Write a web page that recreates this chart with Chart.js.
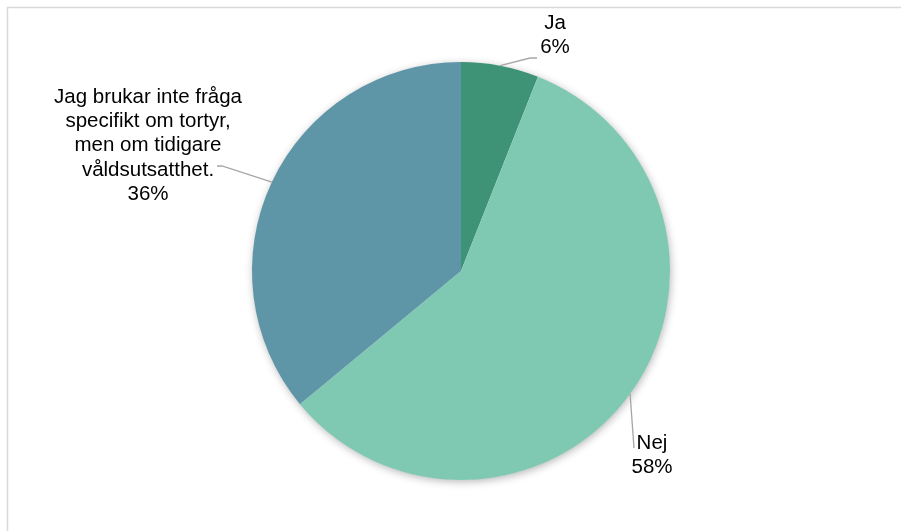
<!DOCTYPE html>
<html>
<head>
<meta charset="utf-8">
<script src="https://cdn.jsdelivr.net/npm/chart.js@4"></script>
<style>
  html, body { margin: 0; padding: 0; background: #ffffff; }
  #wrap { position: relative; width: 901px; height: 531px; }
</style>
</head>
<body>
<div id="wrap"><canvas id="c" width="901" height="531"></canvas></div>
<script>
// Svar på frågan om tortyr
const categories = ['Ja', 'Nej', 'Jag brukar inte fråga specifikt om tortyr, men om tidigare våldsutsatthet.'];
const values = [6, 58, 36];
const sliceColors = ['#3e9377', '#7fc9b2', '#5e96a8'];

// Text rows of each data label (name lines followed by the percentage)
const labelLines = [
  ['Ja', '6%'],
  ['Nej', '58%'],
  ['Jag brukar inte fråga', 'specifikt om tortyr,', 'men om tidigare', 'våldsutsatthet.', '36%']
];

// Label placement: text centre x, first-row centre y, and the leader elbow
const labelLayout = [
  { x: 555, y: 23, elbow: [[530, 58], [537, 58]] },
  { x: 652, y: 443, elbow: [[634, 448]] },
  { x: 148, y: 97, elbow: [[222, 166], [217, 166]] }
];

const FONT = '20.5px "Liberation Sans", Arial, sans-serif';
const LINE_H = 24.3;

const framePlugin = {
  id: 'frame',
  beforeDraw(chart) {
    const ctx = chart.ctx;
    ctx.save();
    ctx.fillStyle = '#ffffff';
    ctx.fillRect(0, 0, chart.width, chart.height);
    ctx.strokeStyle = '#d9d9d9';
    ctx.lineWidth = 1.5;
    ctx.strokeRect(7.5, 7.5, chart.width + 20, chart.height + 20);
    ctx.restore();
  }
};

// One soft shadow under the whole pie, drawn before the slices
const shadowPlugin = {
  id: 'pieShadow',
  beforeDatasetsDraw(chart) {
    const meta = chart.getDatasetMeta(0);
    if (!meta.data.length) return;
    const p = meta.data[0].getProps(['x', 'y', 'outerRadius'], true);
    const ctx = chart.ctx;
    ctx.save();
    ctx.shadowColor = 'rgba(0,0,0,0.30)';
    ctx.shadowBlur = 9;
    ctx.shadowOffsetX = 1;
    ctx.shadowOffsetY = 2;
    ctx.fillStyle = '#ffffff';
    ctx.beginPath();
    ctx.arc(p.x, p.y, p.outerRadius - 0.5, 0, Math.PI * 2);
    ctx.fill();
    ctx.restore();
  }
};

const labelPlugin = {
  id: 'calloutLabels',
  afterDatasetsDraw(chart) {
    const ctx = chart.ctx;
    const meta = chart.getDatasetMeta(0);
    ctx.save();
    meta.data.forEach((arc, i) => {
      const p = arc.getProps(['x', 'y', 'startAngle', 'endAngle', 'outerRadius'], true);
      const mid = (p.startAngle + p.endAngle) / 2;
      const sx = p.x + Math.cos(mid) * p.outerRadius;
      const sy = p.y + Math.sin(mid) * p.outerRadius;
      const lay = labelLayout[i];
      ctx.beginPath();
      ctx.strokeStyle = '#a6a6a6';
      ctx.lineWidth = 1.3;
      ctx.moveTo(sx, sy);
      lay.elbow.forEach(pt => ctx.lineTo(pt[0], pt[1]));
      ctx.stroke();

      ctx.fillStyle = '#000000';
      ctx.font = FONT;
      ctx.textAlign = 'center';
      ctx.textBaseline = 'middle';
      labelLines[i].forEach((t, k) => {
        ctx.fillText(t, lay.x, lay.y + k * LINE_H);
      });
    });
    ctx.restore();
  }
};

new Chart(document.getElementById('c'), {
  type: 'pie',
  data: {
    labels: categories,
    datasets: [{
      data: values,
      backgroundColor: sliceColors,
      borderWidth: 0
    }]
  },
  options: {
    responsive: false,
    animation: false,
    rotation: 0,
    layout: { padding: { left: 252, right: 231, top: 62, bottom: 51 } },
    plugins: {
      legend: { display: false },
      tooltip: { enabled: false },
      title: { display: false }
    }
  },
  plugins: [framePlugin, shadowPlugin, labelPlugin]
});
</script>
</body>
</html>
